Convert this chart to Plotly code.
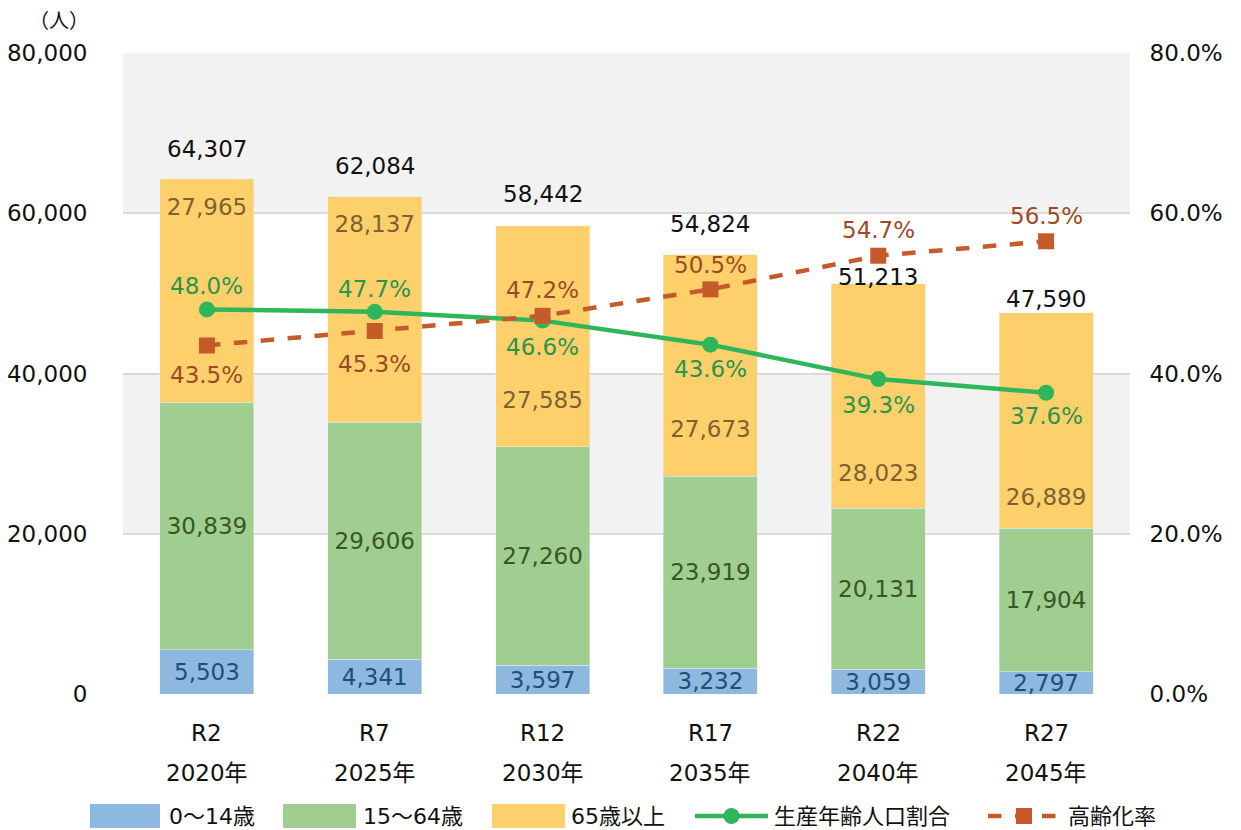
import plotly.graph_objects as go

# ---- data ----
eras = ["R2", "R7", "R12", "R17", "R22", "R27"]
years = ["2020年", "2025年", "2030年", "2035年", "2040年", "2045年"]
age_0_14 = [5503, 4341, 3597, 3232, 3059, 2797]
age_15_64 = [30839, 29606, 27260, 23919, 20131, 17904]
age_65_plus = [27965, 28137, 27585, 27673, 28023, 26889]
working_ratio = [0.480, 0.477, 0.466, 0.436, 0.393, 0.376]
aging_ratio = [0.435, 0.453, 0.472, 0.505, 0.547, 0.565]

series_names = ["0～14歳", "15～64歳", "65歳以上", "生産年齢人口割合", "高齢化率"]

# label placement (layout only)
elder_label_y = [60500, 58375, 36375, 32750, 27250, 24250]
total_label_shift = [30, 31, 32, 31, 7, 14]
working_label_shift = [23, 23, -26, -24, -26, -23]
aging_label_shift = [-30, -33, 26, 24, 26, 25]

FONT = "DejaVu Sans, Verdana, Noto Sans CJK JP, sans-serif"
FS = 23
C_BLUE, C_GREEN, C_YELLOW = "#8db9e0", "#a0ce91", "#fed06b"
C_WLINE, C_ALINE = "#2fb55a", "#c55a2b"
cats = [f"{e} {y}" for e, y in zip(eras, years)]
totals = [a + b + c for a, b, c in zip(age_0_14, age_15_64, age_65_plus)]

def fmt(v):
    return f"{v:,}"

fig = go.Figure()
fig.add_trace(go.Bar(x=cats, y=age_0_14, name=series_names[0], marker_color=C_BLUE,
                     text=[fmt(v) for v in age_0_14], textposition="inside",
                     insidetextanchor="middle", constraintext="none",
                     textfont=dict(size=FS, color="#1f4e79", family=FONT)))
fig.add_trace(go.Bar(x=cats, y=age_15_64, name=series_names[1], marker_color=C_GREEN,
                     text=[fmt(v) for v in age_15_64], textposition="inside",
                     insidetextanchor="middle", constraintext="none",
                     textfont=dict(size=FS, color="#375623", family=FONT)))
fig.add_trace(go.Bar(x=cats, y=age_65_plus, name=series_names[2], marker_color=C_YELLOW))

# elderly segment labels
fig.add_trace(go.Scatter(x=cats, y=elder_label_y, mode="text",
                         text=[fmt(v) for v in age_65_plus], showlegend=False,
                         textposition="middle center", hoverinfo="skip",
                         textfont=dict(size=FS, color="#7f6030", family=FONT)))

fig.add_trace(go.Scatter(x=cats, y=working_ratio, name=series_names[3], yaxis="y2",
                         mode="lines+markers",
                         line=dict(color=C_WLINE, width=4.5),
                         marker=dict(symbol="circle", size=16, color=C_WLINE)))
fig.add_trace(go.Scatter(x=cats, y=aging_ratio, name=series_names[4], yaxis="y2",
                         mode="lines+markers",
                         line=dict(color=C_ALINE, width=4.5, dash="dash"),
                         marker=dict(symbol="square", size=16, color=C_ALINE)))

annotations = []
for c, t, s in zip(cats, totals, total_label_shift):
    annotations.append(dict(x=c, y=t, xref="x", yref="y", text=fmt(t), showarrow=False,
                            yanchor="middle", yshift=s,
                            font=dict(size=FS, color="#111111", family=FONT)))
for c, v, s in zip(cats, working_ratio, working_label_shift):
    annotations.append(dict(x=c, y=v, xref="x", yref="y2", text=f"{v*100:.1f}%",
                            showarrow=False, yanchor="middle", yshift=s,
                            font=dict(size=FS, color="#2a954a", family=FONT)))
for c, v, s in zip(cats, aging_ratio, aging_label_shift):
    annotations.append(dict(x=c, y=v, xref="x", yref="y2", text=f"{v*100:.1f}%",
                            showarrow=False, yanchor="middle", yshift=s,
                            font=dict(size=FS, color="#9c4a26", family=FONT)))
for c, e, yr in zip(cats, eras, years):
    annotations.append(dict(x=c, y=-0.061, xref="x", yref="paper", text=e, showarrow=False,
                            yanchor="middle", font=dict(size=FS, color="#111111", family=FONT)))
    annotations.append(dict(x=c, y=-0.123, xref="x", yref="paper", text=yr, showarrow=False,
                            yanchor="middle", font=dict(size=FS, color="#111111", family=FONT)))
annotations.append(dict(x=-0.064, y=1.050, xref="paper", yref="paper", text="（人）",
                        showarrow=False, xanchor="center", yanchor="middle",
                        font=dict(size=20, color="#111111", family=FONT)))

shapes = []
for lo, hi in [(20000, 40000), (60000, 80000)]:
    shapes.append(dict(type="rect", xref="paper", yref="y", x0=0, x1=1, y0=lo, y1=hi,
                       fillcolor="#f2f2f2", line=dict(width=0), layer="below"))

# ---- custom legend (page-pixel layout converted to paper coords) ----
def px(x):
    return (x - 123) / 1007

def py(y):
    return (694 - y) / 641

LEG_Y = 816
box_specs = [(90, 160, C_BLUE, 167), (283, 356, C_GREEN, 361), (492, 565, C_YELLOW, 569)]
for (x0, x1, col, tx), name in zip(box_specs, series_names[:3]):
    shapes.append(dict(type="rect", xref="paper", yref="paper", x0=px(x0), x1=px(x1),
                       y0=py(LEG_Y + 12), y1=py(LEG_Y - 12), fillcolor=col, line=dict(width=0)))
    annotations.append(dict(x=px(tx), y=py(LEG_Y), xref="paper", yref="paper", text=name,
                            showarrow=False, xanchor="left", yanchor="middle",
                            font=dict(size=22, color="#111111", family=FONT)))
line_specs = [(695, 768, C_WLINE, "solid", "circle", 772), (988, 1060, C_ALINE, "dash", "square", 1066)]
for (x0, x1, col, dash, sym, tx), name in zip(line_specs, series_names[3:]):
    shapes.append(dict(type="line", xref="paper", yref="paper", x0=px(x0), x1=px(x1),
                       y0=py(LEG_Y), y1=py(LEG_Y),
                       line=dict(color=col, width=4.5, dash="solid" if dash == "solid" else "dash")))
    cx = (x0 + x1) / 2
    shapes.append(dict(type="circle" if sym == "circle" else "rect", xref="paper", yref="paper",
                       x0=px(cx - 8), x1=px(cx + 8), y0=py(LEG_Y + 8), y1=py(LEG_Y - 8),
                       fillcolor=col, line=dict(width=0)))
    annotations.append(dict(x=px(tx), y=py(LEG_Y), xref="paper", yref="paper", text=name,
                            showarrow=False, xanchor="left", yanchor="middle",
                            font=dict(size=22, color="#111111", family=FONT)))

# page body has an 8px margin: figure sized/positioned to compensate
fig.update_layout(
    width=1233, height=822,
    margin=dict(l=115, r=111, t=45, b=136, autoexpand=False),
    paper_bgcolor="white", plot_bgcolor="white",
    barmode="stack", bargap=0.44,
    font=dict(family=FONT, size=FS, color="#111111"),
    xaxis=dict(showticklabels=False, showgrid=False, zeroline=False, showline=False,
               automargin=False),
    yaxis=dict(range=[0, 80000], tickvals=[0, 20000, 40000, 60000, 80000],
               ticktext=["0", "20,000", "40,000", "60,000", "80,000"],
               showgrid=True, gridcolor="#d9d9d9", gridwidth=2, zeroline=False,
               ticks="outside", ticklen=30, tickcolor="rgba(0,0,0,0)", automargin=False,
               tickfont=dict(size=FS, family=FONT, color="#111111")),
    yaxis2=dict(range=[0, 0.8], overlaying="y", side="right",
                tickvals=[0, 0.2, 0.4, 0.6, 0.8], tickformat=".1%",
                showgrid=False, zeroline=False, automargin=False,
                ticks="outside", ticklen=14, tickcolor="rgba(0,0,0,0)",
                tickfont=dict(size=FS, family=FONT, color="#111111")),
    showlegend=False,
    shapes=shapes, annotations=annotations,
)

fig.write_html("out.html")
